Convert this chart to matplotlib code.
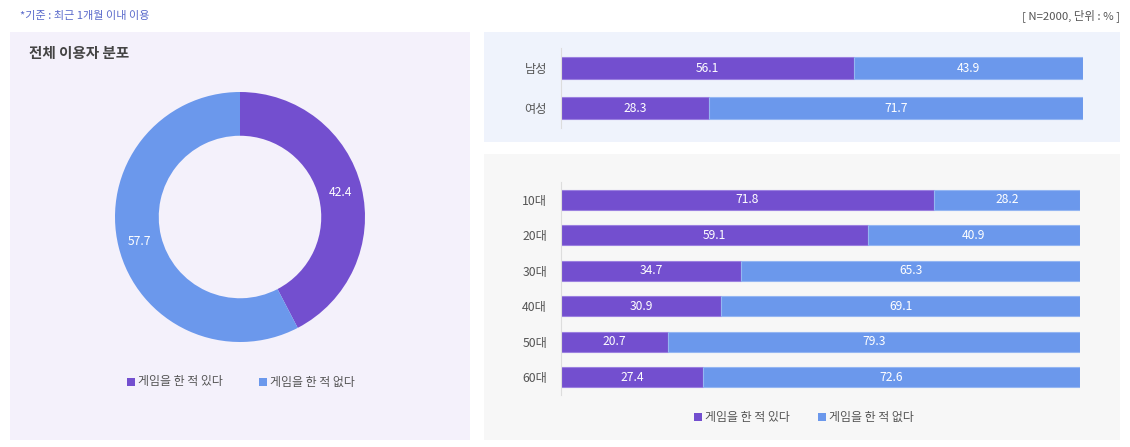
import matplotlib
matplotlib.use("Agg")
import matplotlib.pyplot as plt
from matplotlib.patches import Rectangle

plt.rcParams['font.family'] = ['Noto Sans CJK KR', 'DejaVu Sans']

# ---------------- data ----------------
series_names = ["게임을 한 적 있다", "게임을 한 적 없다"]
overall_values = [42.4, 57.7]

gender_labels = ["남성", "여성"]
gender_yes = [56.1, 28.3]
gender_no = [43.9, 71.7]

age_labels = ["10대", "20대", "30대", "40대", "50대", "60대"]
age_yes = [71.8, 59.1, 34.7, 30.9, 20.7, 27.4]
age_no = [28.2, 40.9, 65.3, 69.1, 79.3, 72.6]

note_text = "*기준 : 최근 1개월 이내 이용"
unit_text = "[ N=2000, 단위 : % ]"
panel_title = "전체 이용자 분포"

# ---------------- style ----------------
PURPLE = "#734FCF"
BLUE = "#6B98EC"
PURPLE_EDGE = "#9B80E0"
BLUE_EDGE = "#94B6F2"
TXT = "#555555"

W, H = 1130, 447
fig = plt.figure(figsize=(W / 100, H / 100), dpi=100)
fig.patch.set_facecolor("white")


def fx(x):
    return x / W


def fy(y):
    return 1 - y / H


def px_axes(x0, y0, x1, y1, **kw):
    ax = fig.add_axes([fx(x0), fy(y1), (x1 - x0) / W, (y1 - y0) / H], **kw)
    ax.set_zorder(2)
    ax.patch.set_visible(False)
    return ax


def panel(x0, y0, x1, y1, color):
    fig.patches.append(Rectangle((fx(x0), fy(y1)), (x1 - x0) / W, (y1 - y0) / H,
                                 transform=fig.transFigure, facecolor=color,
                                 edgecolor="none", zorder=-5))


panel(10, 32, 470, 440, "#F4F1FB")
panel(484, 32, 1120, 142, "#EFF3FC")
panel(484, 154, 1120, 440, "#F7F7F7")

fig.text(fx(20), fy(16), note_text, color="#5A6ACB", fontsize=8, va="center", ha="left")
fig.text(fx(1120), fy(16), unit_text, color=TXT, fontsize=8.2, va="center", ha="right")
fig.text(fx(29), fy(53), panel_title, color="#444444", fontsize=10.5, fontweight="bold",
         va="center", ha="left")

# ---------------- donut ----------------
ax_d = px_axes(110, 87, 370, 347)
wedges, texts = ax_d.pie(overall_values, colors=[PURPLE, BLUE], startangle=90,
                         counterclock=False, radius=1,
                         wedgeprops=dict(width=0.35, edgecolor="none"),
                         labels=[f"{v:.1f}" for v in overall_values],
                         labeldistance=0.825,
                         textprops=dict(color="white", fontsize=8.7))
for t in texts:
    t.set_ha("center")
    t.set_va("center")
ax_d.set_xlim(-1.04, 1.04)
ax_d.set_ylim(-1.04, 1.04)
ax_d.set_aspect("equal")
ax_d.axis("off")


def legend(items, y, xs):
    for (name, col), x in zip(items, xs):
        fig.patches.append(Rectangle((fx(x), fy(y + 4)), 8 / W, 8 / H,
                                     transform=fig.transFigure, facecolor=col,
                                     edgecolor="none", zorder=3))
        fig.text(fx(x + 11), fy(y), name, color=TXT, fontsize=8.6, va="center", ha="left")


legend(list(zip(series_names, [PURPLE, BLUE])), 382, [127, 259])


# ---------------- stacked bars ----------------
def stacked(ax, labels, yes, no):
    ypos = list(range(len(labels)))
    c1 = ax.barh(ypos, yes, height=0.55, color=PURPLE, edgecolor=PURPLE_EDGE, linewidth=0.8)
    c2 = ax.barh(ypos, no, left=yes, height=0.55, color=BLUE, edgecolor=BLUE_EDGE, linewidth=0.8)
    ax.bar_label(c1, labels=[f"{v:.1f}" for v in yes], label_type="center",
                 color="white", fontsize=8.7)
    ax.bar_label(c2, labels=[f"{v:.1f}" for v in no], label_type="center",
                 color="white", fontsize=8.7)
    ax.set_xlim(0, 100)
    ax.set_ylim(len(labels) - 0.5, -0.5)
    ax.set_yticks(ypos)
    ax.set_yticklabels(labels, color=TXT, fontsize=8.8)
    ax.tick_params(axis="y", length=0, pad=10)
    ax.set_xticks([])
    for s in ["top", "right", "bottom"]:
        ax.spines[s].set_visible(False)
    ax.spines["left"].set_color("#DDDDDD")
    ax.spines["left"].set_linewidth(0.8)


ax_g = px_axes(561, 48, 1083, 128)
stacked(ax_g, gender_labels, gender_yes, gender_no)

ax_a = px_axes(561, 182, 1080, 395)
stacked(ax_a, age_labels, age_yes, age_no)

legend(list(zip(series_names, [PURPLE, BLUE])), 417, [694, 818])

fig.savefig("out.png", dpi=100, facecolor="white")
